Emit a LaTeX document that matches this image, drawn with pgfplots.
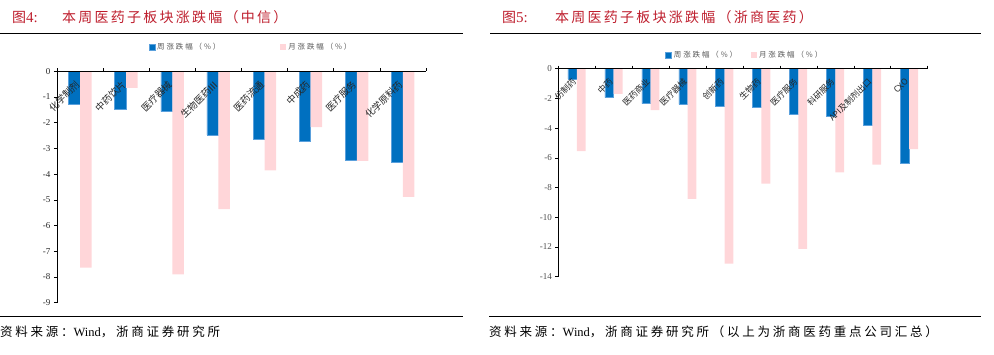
\documentclass[border=0pt]{standalone}
\usepackage{pgfplots}
\pgfplotsset{compat=1.18}
\usepackage{fontspec}
\setmainfont{Liberation Serif}
\newfontfamily\cjk{Noto Sans CJK SC}
\newfontfamily\cjkt{Noto Sans CJK SC}[LetterSpace=16]
\newfontfamily\cjks{Noto Sans CJK SC}[LetterSpace=22]
\newfontfamily\cjkl{Noto Sans CJK SC}[LetterSpace=25]
\definecolor{titlered}{RGB}{190,30,45}
\definecolor{wkblue}{RGB}{0,112,192}
\definecolor{wkblueedge}{RGB}{90,160,220}
\definecolor{mopink}{RGB}{255,214,217}
\definecolor{lgray}{RGB}{89,89,89}

\pgfplotsset{
  zsbars/.style={
    scale only axis,
    anchor=south west,
    axis on top,
    axis y line*=left,
    axis x line*=top,
    ymax=0,
    tick align=outside,
    major tick length=3pt,
    axis line style={line width=0.8pt, black},
    every tick/.style={black, line width=0.6pt},
    ybar=0pt,
    /pgf/number format/assume math mode=true,
    yticklabel style={font=\fontsize{9}{10}\selectfont, text=black!85},
    xticklabels={},
    extra x tick style={major tick length=0pt},
    xticklabel style={rotate=45, anchor=east, font=\cjk\fontsize{9.5}{10}\selectfont, text=black!85},
    xticklabel shift={-9pt},
    clip=false,
  }
}

\begin{document}
\begin{tikzpicture}[x=1pt,y=1pt]
\useasboundingbox (0,0) rectangle (994,-355);

% titles
\node[anchor=west, text=titlered, inner sep=0pt] at (12,-17) {{\cjkt\fontsize{14}{16}\selectfont 图}{\fontsize{15}{16}\selectfont 4:}};
\node[anchor=west, text=titlered, inner sep=0pt] at (62,-17) {\cjkt\fontsize{14}{16}\selectfont 本周医药子板块涨跌幅（中信）};
\node[anchor=west, text=titlered, inner sep=0pt] at (502,-17) {{\cjkt\fontsize{14}{16}\selectfont 图}{\fontsize{15}{16}\selectfont 5:}};
\node[anchor=west, text=titlered, inner sep=0pt] at (555,-17) {\cjkt\fontsize{14}{16}\selectfont 本周医药子板块涨跌幅（浙商医药）};

% rules
\draw[line width=1pt] (0,-34) -- (463,-34);
\draw[line width=1pt] (490,-34) -- (981,-34);
\draw[line width=1pt] (0,-317) -- (463,-317);
\draw[line width=1pt] (489,-317) -- (981,-317);

% sources
\node[anchor=west, inner sep=0pt] at (0,-332) {\fontsize{12.5}{14}\selectfont{\cjks 资料来源：}Wind{\cjks ，浙商证券研究所}};
\node[anchor=west, inner sep=0pt] at (489,-332) {\fontsize{12.5}{14}\selectfont{\cjks 资料来源：}Wind{\cjks ，浙商证券研究所（以上为浙商医药重点公司汇总）}};

% left chart
\begin{axis}[zsbars,
  at={(57pt,-302.7pt)},
  width=369pt, height=231.4pt,
  ymin=-9, ytick={-9,-8,...,0},
  xmin=-0.5, xmax=7.5,
  xtick={-0.5,0.5,...,7.5},
  bar width=11.5pt,
  extra x ticks={0,1,...,7},
  extra x tick labels={化学制剂,中药饮片,医疗器械,生物医药Ⅲ,医药流通,中成药,医疗服务,化学原料药},
  legend style={draw=none, fill=none, at={(0.526,1.105)}, anchor=center,
    legend columns=2, font=\cjkl\fontsize{7.5}{9}\selectfont, text=lgray,
    /tikz/every even column/.append style={column sep=58pt}},
  legend image code/.code={\fill[#1] (0pt,-3pt) rectangle (6pt,3pt);},
]
\addplot[fill=wkblue, draw=wkblueedge, line width=0.5pt] coordinates {
(0,-1.30) (1,-1.47) (2,-1.57) (3,-2.47) (4,-2.63) (5,-2.71) (6,-3.45) (7,-3.54)};
\addplot[fill=mopink, draw=none] coordinates {
(0,-7.64) (1,-0.64) (2,-7.90) (3,-5.36) (4,-3.85) (5,-2.17) (6,-3.48) (7,-4.88)};
\legend{周涨跌幅（\%）, 月涨跌幅（\%）}
\end{axis}

% right chart
\begin{axis}[zsbars,
  at={(558.3pt,-276.7pt)},
  width=369.4pt, height=208pt,
  ymin=-14, ytick={-14,-12,...,0},
  xmin=-0.5, xmax=9.5,
  xtick={-0.5,0.5,...,9.5},
  bar width=8.8pt,
  extra x ticks={0,1,...,9},
  extra x tick labels={仿制药,中药,医药商业,医疗器械,创新药,生物药,医疗服务,科研服务,API及制剂出口,CXO},
  xticklabel style={font=\cjk\fontsize{8.5}{9}\selectfont},
  yticklabel style={text=black!70},
  legend style={draw=none, fill=none, at={(0.505,1.066)}, anchor=center,
    legend columns=2, font=\cjkl\fontsize{7.5}{9}\selectfont, text=lgray,
    /tikz/every even column/.append style={column sep=12pt}},
  legend image code/.code={\fill[#1] (0pt,-3pt) rectangle (6pt,3pt);},
]
\addplot[fill=wkblue, draw=wkblueedge, line width=0.5pt] coordinates {
(0,-0.69) (1,-1.95) (2,-2.35) (3,-2.40) (4,-2.53) (5,-2.60) (6,-3.09) (7,-3.23) (8,-3.84) (9,-6.35)};
\addplot[fill=mopink, draw=none] coordinates {
(0,-5.54) (1,-1.70) (2,-2.78) (3,-8.77) (4,-13.12) (5,-7.74) (6,-12.13) (7,-6.97) (8,-6.46) (9,-5.42)};
\legend{周涨跌幅（\%）, 月涨跌幅（\%）}
\end{axis}
\end{tikzpicture}
\end{document}
